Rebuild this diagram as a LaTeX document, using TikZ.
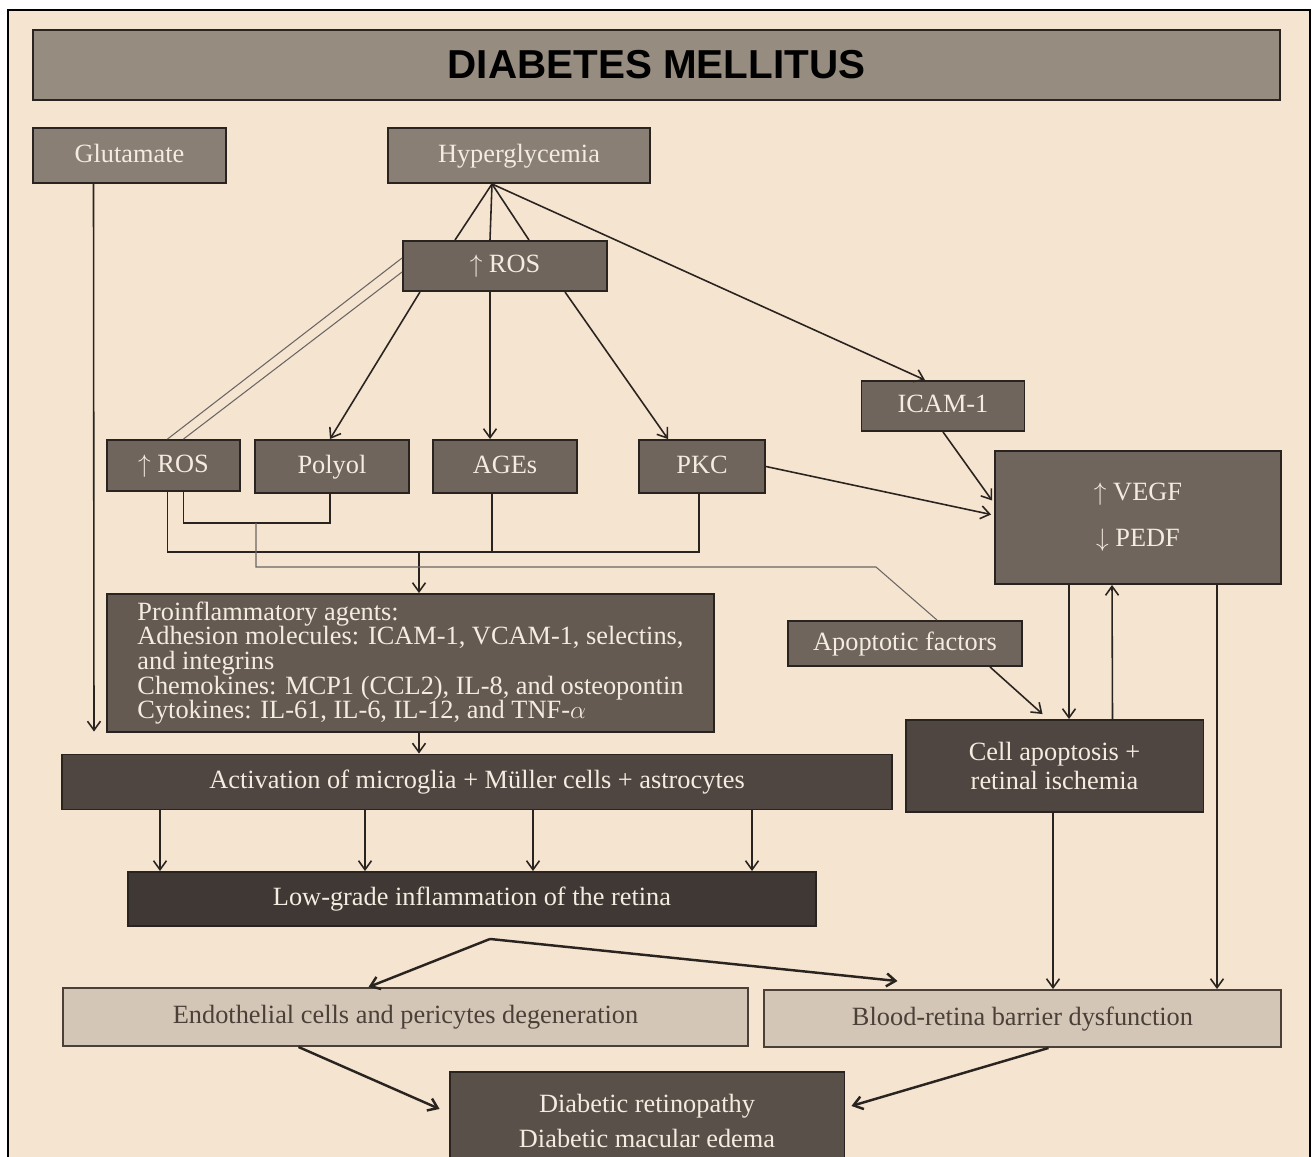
\documentclass[tikz,border=0pt]{standalone}
\usepackage{fontspec}
\setmainfont{Liberation Serif}
\newfontfamily\titlefont{Liberation Sans}
\usetikzlibrary{arrows.meta,positioning,calc}
\definecolor{dmPaper}{HTML}{F5E4D0}
\definecolor{dmTitle}{HTML}{978C80}
\definecolor{dmMid}{HTML}{8A7F75}
\definecolor{dmStep}{HTML}{6F655C}
\definecolor{dmAgent}{HTML}{645A52}
\definecolor{dmDeep}{HTML}{4F4641}
\definecolor{dmDark}{HTML}{3F3834}
\definecolor{dmPale}{HTML}{D4C6B7}
\definecolor{dmOut}{HTML}{5A504A}
\definecolor{dmEdge}{HTML}{2A2420}
\definecolor{dmText}{HTML}{F4ECE0}
\definecolor{dmInk}{HTML}{4A4038}
\tikzset{
  dmbox/.style={
    draw=dmEdge, line width=1.1pt, inner sep=0pt, align=center,
    text=dmText, font=\fontsize{15}{18}\selectfont
  },
  oneline/.style={text height=10.5pt, text depth=3pt},
  titlebox/.style={dmbox, fill=dmTitle, text=black,
    font=\titlefont\bfseries\fontsize{23}{26}\selectfont},
  stepbox/.style={dmbox, fill=dmStep},
  palebox/.style={dmbox, oneline, fill=dmPale, text=dmInk, draw=dmInk},
  link/.style={draw=dmEdge, line width=0.9pt},
  arr/.style={link, -{Straight Barb[length=1.8mm, width=2.6mm]}},
  heavy/.style={arr, line width=1.4pt},
  faint/.style={draw=dmEdge!70, line width=0.6pt}
}
\begin{document}
\begin{tikzpicture}[x=0.02cm, y=-0.02cm]
  \useasboundingbox (0,0) rectangle (1314,1156);
  \fill[white] (0,0) rectangle (1314,1156);
  \draw[line width=1.2pt, fill=dmPaper] (8,10) rectangle (1310,1180);

  % boxes
  \node[titlebox, minimum width=24.94cm, minimum height=1.4cm] (title) at (656.5,65) {DIABETES MELLITUS};
  \node[dmbox, oneline, fill=dmMid, minimum width=3.86cm, minimum height=1.1cm] (glu) at (129.5,155.5) {Glutamate};
  \node[dmbox, oneline, fill=dmMid, minimum width=5.24cm, minimum height=1.1cm] (hyper) at (519,155.5) {Hyperglycemia};
  \node[stepbox, oneline, minimum width=4.08cm, minimum height=1cm] (rosTop) at (505,266) {$\uparrow$ ROS};
  \node[stepbox, oneline, minimum width=3.26cm, minimum height=1cm] (icam) at (943,406) {ICAM-1};
  \node[stepbox, oneline, minimum width=2.66cm, minimum height=1.02cm] (rosLeft) at (173.5,465.5) {$\uparrow$ ROS};
  \node[stepbox, oneline, minimum width=3.08cm, minimum height=1.06cm] (polyol) at (332,466.5) {Polyol};
  \node[stepbox, oneline, minimum width=2.88cm, minimum height=1.06cm] (ages) at (505,466.5) {AGEs};
  \node[stepbox, oneline, minimum width=2.52cm, minimum height=1.06cm] (pkc) at (702,466.5) {PKC};
  \node[stepbox, minimum width=5.72cm, minimum height=2.66cm] (vegf) at (1138,517.5) {$\uparrow$ VEGF\\[8pt]$\downarrow$ PEDF};
  \node[stepbox, oneline, minimum width=4.68cm, minimum height=0.9cm] (apop) at (905,643.5) {Apoptotic factors};
  \node[dmbox, fill=dmAgent, minimum width=12.14cm, minimum height=2.76cm, align=left,
        font=\fontsize{15}{14}\selectfont] (proinf) at (410.5,663)
    {Proinflammatory agents:\\
     Adhesion molecules: ICAM-1, VCAM-1, selectins,\\
     and integrins\\
     Chemokines: MCP1 (CCL2), IL-8, and osteopontin\\
     Cytokines: IL-61, IL-6, IL-12, and TNF-$\alpha$};
  \node[dmbox, oneline, fill=dmDeep, minimum width=16.62cm, minimum height=1.1cm] (activ) at (477,782) {Activation of microglia + Müller cells + astrocytes};
  \node[dmbox, fill=dmDeep, minimum width=5.96cm, minimum height=1.84cm,
        font=\fontsize{15}{16}\selectfont] (cellapop) at (1054.5,766) {Cell apoptosis +\\retinal ischemia};
  \node[dmbox, oneline, fill=dmDark, minimum width=13.78cm, minimum height=1.08cm] (lowgrade) at (472,899) {Low-grade inflammation of the retina};
  \node[palebox, minimum width=13.7cm, minimum height=1.16cm] (endo) at (405.5,1017) {Endothelial cells and pericytes degeneration};
  \node[palebox, minimum width=10.34cm, minimum height=1.14cm] (brb) at (1022.5,1018.5) {Blood-retina barrier dysfunction};
  \node[dmbox, fill=dmOut, minimum width=7.9cm, minimum height=1.96cm, anchor=north] (dr) at (647,1071) {Diabetic retinopathy\\[2pt]Diabetic macular edema};

  % hyperglycemia fan
  \coordinate (hy) at ($(hyper.south)+(-27,0)$);
  \foreach \dx in {-50,-15,24}{\draw[link] (hy) -- ($(rosTop.north)+(\dx,0)$);}
  \draw[arr] (hy) -- ($(icam.north)+(-18,0)$);

  % ROS to the pathways
  \draw[faint] ($(rosTop.west)+(0,-8)$) -- ($(rosLeft.north)+(-6,0)$);
  \draw[faint] ($(rosTop.west)+(0,6)$) -- ($(rosLeft.north)+(10,0)$);
  \draw[arr] ($(rosTop.south)+(-85,0)$) -- ($(polyol.north)+(-2,0)$);
  \draw[arr] ($(rosTop.south)+(-15,0)$) -- ($(ages.north)+(-15,0)$);
  \draw[arr] ($(rosTop.south)+(60,0)$) -- ($(pkc.north)+(-34,0)$);

  % into VEGF
  \draw[arr] (icam.south) -- ($(vegf.west)+(-2,-17)$);
  \draw[arr] (pkc.east) -- ($(vegf.west)+(-3,-3)$);

  % collecting lines
  \coordinate (bus) at (419,552);
  \coordinate (loop) at (256,523);
  \coordinate (bend) at (876,567);
  \coordinate (agesFoot) at ($(ages.south)+(-13,0)$);
  \draw[link] ($(rosLeft.south)+(-6,0)$) |- (bus) -| ($(pkc.south)+(-3,0)$);
  \draw[link] (agesFoot) -- (agesFoot |- bus);
  \draw[arr] (bus) -- (proinf.north -| bus);
  \draw[link] ($(rosLeft.south)+(10,0)$) |- (loop) -| ($(polyol.south)+(-2,0)$);
  \draw[faint] (loop) |- (bend) -- ($(apop.north)+(32,0)$);

  % apoptosis loop
  \draw[arr] ($(apop.south)+(85,0)$) -- ($(cellapop.north)+(-12,-5)$);
  \draw[arr] ($(vegf.south)+(-69,0)$) -- ($(cellapop.north)+(14.5,0)$);
  \draw[arr] ($(cellapop.north)+(58,0)$) -- ($(vegf.south)+(-26,0)$);
  \draw[arr] ($(vegf.south)+(79,0)$) -- ($(brb.north)+(194.5,0)$);
  \draw[arr] ($(cellapop.south)+(-1.5,0)$) -- ($(brb.north)+(30.5,0)$);

  % glutamate
  \draw[arr] ($(glu.south)+(-36,0)$) -- ($(activ.north)+(-383,-22)$);

  % glial activation
  \draw[arr] (proinf.south -| bus) -- (activ.north -| bus);
  \foreach \xx in {160,365,533,752}
    \draw[arr] ($(activ.south)+(\xx-477,0)$) -- ($(lowgrade.north)+(\xx-472,0)$);

  % outcomes
  \coordinate (split) at ($(lowgrade.south)+(18,12)$);
  \draw[heavy] (split) -- ($(endo.north)+(-37,0)$);
  \draw[heavy] (split) -- ($(brb.north)+(-125,-8)$);
  \draw[heavy] ($(endo.south)+(-107,0)$) -- ($(dr.west)+(-9,-12)$);
  \draw[heavy] ($(brb.south)+(26,0)$) -- ($(dr.east)+(6,-15)$);
\end{tikzpicture}
\end{document}
